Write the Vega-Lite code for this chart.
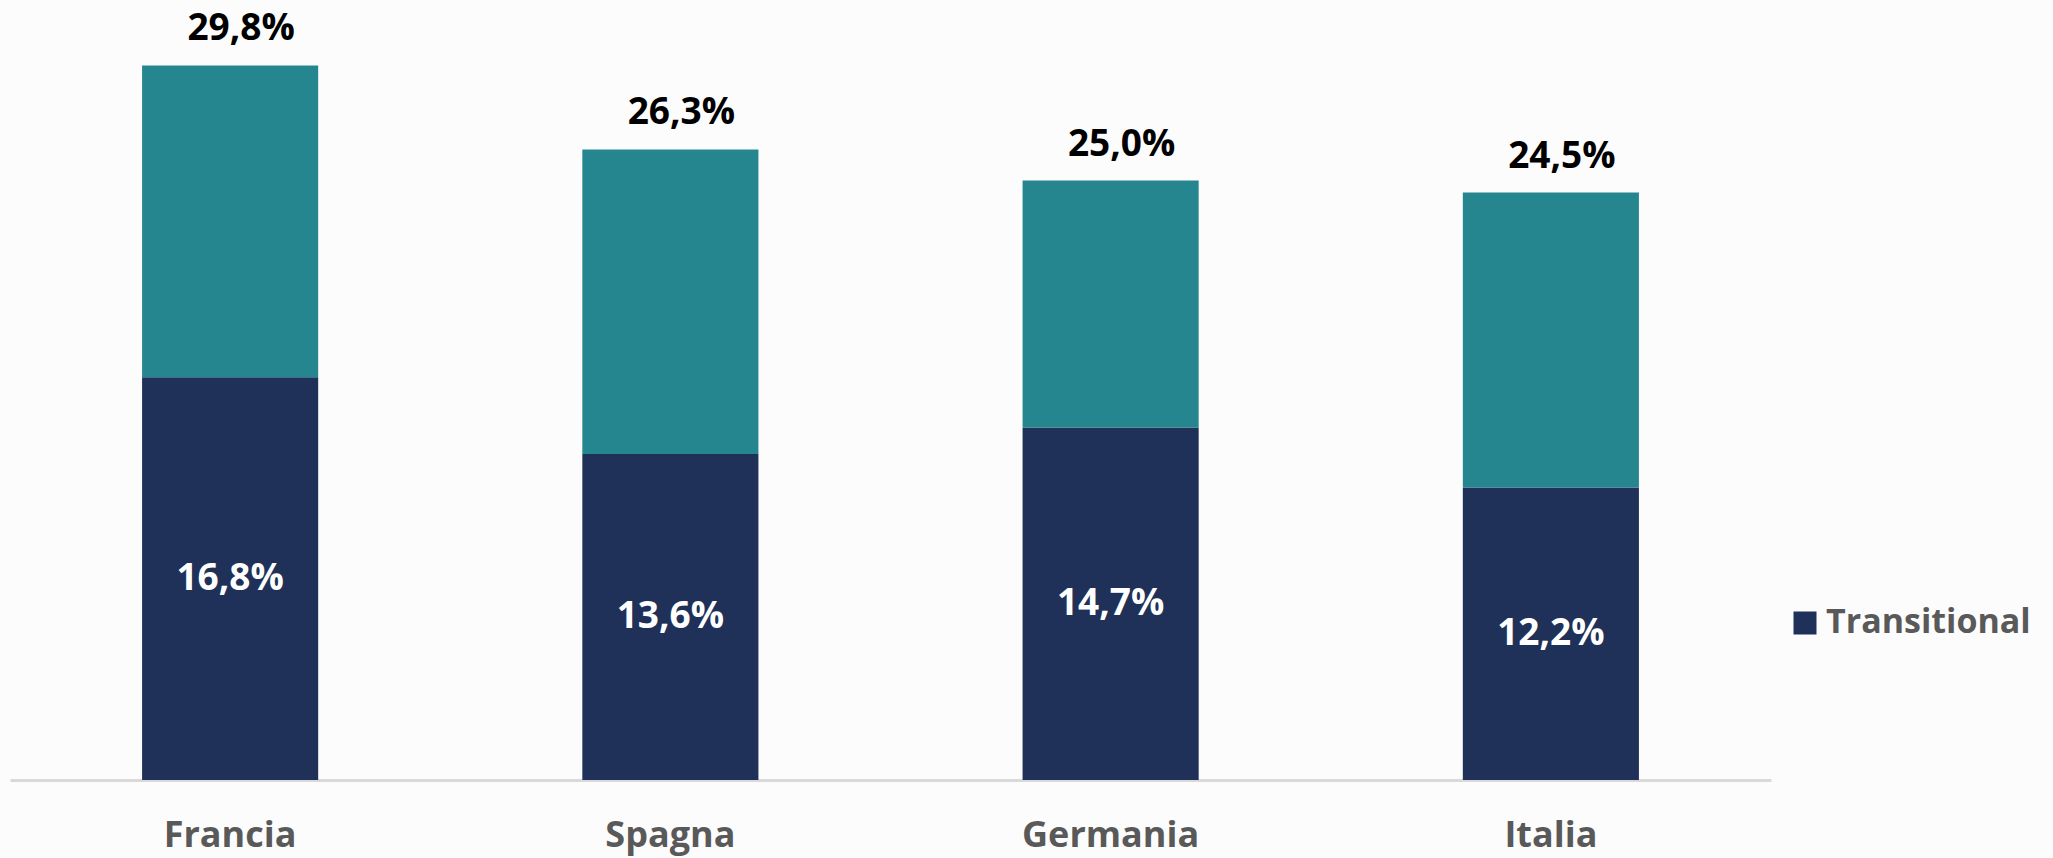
{
  "$schema": "https://vega.github.io/schema/vega-lite/v6.json",
  "width": 1761,
  "height": 780,
  "autosize": "none",
  "padding": {"left": 10, "top": 0, "right": 282, "bottom": 78},
  "background": "#fcfcfc",
  "config": {
    "view": {"stroke": null},
    "font": "Open Sans",
    "locale": {"number": {"decimal": ",", "thousands": ".", "grouping": [3], "currency": ["€", ""]}}
  },
  "datasets": {
    "segments": [
      {"paese": "Francia", "serie": "Transitional", "valore": 0.168},
      {"paese": "Francia", "serie": "Aligned", "valore": 0.130},
      {"paese": "Spagna", "serie": "Transitional", "valore": 0.136},
      {"paese": "Spagna", "serie": "Aligned", "valore": 0.127},
      {"paese": "Germania", "serie": "Transitional", "valore": 0.147},
      {"paese": "Germania", "serie": "Aligned", "valore": 0.103},
      {"paese": "Italia", "serie": "Transitional", "valore": 0.122},
      {"paese": "Italia", "serie": "Aligned", "valore": 0.123}
    ],
    "totals": [
      {"paese": "Francia", "totale": 0.298},
      {"paese": "Spagna", "totale": 0.263},
      {"paese": "Germania", "totale": 0.250},
      {"paese": "Italia", "totale": 0.245}
    ]
  },
  "encoding": {
    "x": {
      "field": "paese",
      "type": "nominal",
      "sort": ["Francia", "Spagna", "Germania", "Italia"],
      "scale": {"paddingInner": 0.6, "paddingOuter": 0.3},
      "axis": {
        "title": null,
        "labelAngle": 0,
        "ticks": false,
        "domainColor": "#d9d9d9",
        "domainWidth": 3,
        "labelFont": "Open Sans",
        "labelFontSize": 36,
        "labelFontWeight": "bold",
        "labelColor": "#595959",
        "labelPadding": 38
      }
    }
  },
  "layer": [
    {
      "data": {"name": "segments"},
      "mark": {"type": "bar"},
      "encoding": {
        "y": {"field": "valore", "type": "quantitative", "stack": "zero", "scale": {"domain": [0, 0.3253], "nice": false, "zero": true}, "axis": null},
        "color": {
          "field": "serie",
          "type": "nominal",
          "scale": {"domain": ["Transitional", "Aligned"], "range": ["#1f3158", "#26868f"]},
          "legend": {
            "values": ["Transitional"],
            "orient": "none",
            "legendX": 1778,
            "legendY": 606,
            "title": null,
            "symbolType": "square",
            "symbolSize": 529,
            "symbolStrokeWidth": 0,
            "labelFont": "Open Sans",
            "labelFontSize": 34,
            "labelFontWeight": "bold",
            "labelColor": "#595959",
            "labelOffset": 4,
            "labelLimit": 400
          }
        },
        "order": {"field": "serie", "sort": "descending"}
      }
    },
    {
      "data": {"name": "segments"},
      "transform": [{"filter": "datum.serie === 'Transitional'"}],
      "mark": {"type": "text", "color": "#ffffff", "font": "Open Sans", "fontSize": 37, "fontWeight": "bold", "baseline": "middle", "align": "center"},
      "encoding": {
        "y": {"field": "valore", "type": "quantitative", "scale": {"domain": [0, 0.6506], "nice": false, "zero": true}, "axis": null},
        "text": {"field": "valore", "type": "quantitative", "format": ".1%"}
      }
    },
    {
      "data": {"name": "totals"},
      "mark": {"type": "text", "color": "#000000", "font": "Open Sans", "fontSize": 37, "fontWeight": "bold", "baseline": "alphabetic", "align": "center", "dx": 11, "dy": -25},
      "encoding": {
        "y": {"field": "totale", "type": "quantitative", "scale": {"domain": [0, 0.3253], "nice": false, "zero": true}, "axis": null},
        "text": {"field": "totale", "type": "quantitative", "format": ".1%"}
      }
    }
  ],
  "resolve": {"scale": {"y": "independent"}}
}
